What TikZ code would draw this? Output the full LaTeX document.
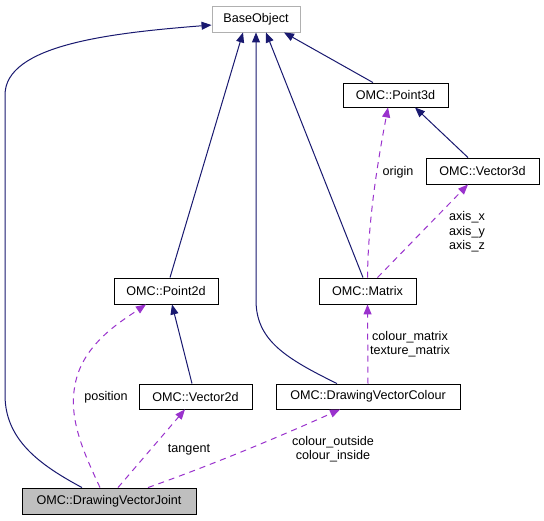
\documentclass[tikz,border=0pt]{standalone}
\usepackage{fontspec}
\setmainfont{Liberation Sans}
\usetikzlibrary{arrows.meta}
\definecolor{inhcol}{HTML}{191970}
\definecolor{usecol}{HTML}{9A32CD}
\definecolor{boxgray}{HTML}{BFBFBF}
\definecolor{baseline}{HTML}{B0B0B0}
\begin{document}
\begin{tikzpicture}[x=1pt,y=-1pt,
  font=\fontsize{12.6}{14.5}\selectfont,
  cls/.style={draw=black,rectangle,inner sep=0pt,line width=0.9pt},
  inh/.style={draw=inhcol,line width=1pt,-{Triangle[length=10pt,width=8pt]},arrows={[color=inhcol,fill=inhcol]}},
  use/.style={draw=usecol,line width=1pt,dash pattern=on 6pt off 5pt,-{Triangle[length=10pt,width=8pt]}},
  lbl/.style={align=center,inner sep=0pt,font=\fontsize{12.6}{14.5}\selectfont}]
\useasboundingbox (0,0) rectangle (544,520);
\fill[white] (0,0) rectangle (544,520);

\node[cls,draw=baseline,minimum width=88pt,minimum height=26pt] (base) at (256,19) {BaseObject};
\node[cls,minimum width=105pt,minimum height=24pt] (p3d) at (395.5,95) {OMC::Point3d};
\node[cls,minimum width=113pt,minimum height=26pt] (v3d) at (482.5,171) {OMC::Vector3d};
\node[cls,minimum width=104pt,minimum height=26pt] (p2d) at (166,291) {OMC::Point2d};
\node[cls,minimum width=97pt,minimum height=26pt] (mat) at (367.5,291) {OMC::Matrix};
\node[cls,minimum width=113pt,minimum height=25pt] (v2d) at (195.5,396.5) {OMC::Vector2d};
\node[cls,minimum width=184pt,minimum height=25pt] (dvc) at (368,396.5) {OMC::DrawingVectorColour};
\node[cls,fill=boxgray,minimum width=174pt,minimum height=26pt] (dvj) at (109,501) {OMC::DrawingVectorJoint};

% inheritance
\draw[inh] ([xshift=-27pt]dvj.north) .. controls (40,465) and (5,440) .. (5,395)
  -- (5,95) .. controls (5,45) and (110,33) .. ([yshift=-6pt]base.west);
\draw[inh] ([xshift=4pt]p2d.north) -- ([xshift=-13pt]base.south);
\draw[inh] ([xshift=-31pt]dvc.north) .. controls (285,358) and (256,340) .. (256,300) -- (base.south);
\draw[inh] ([xshift=-4.5pt]mat.north) -- ([xshift=10pt]base.south);
\draw[inh] ([xshift=-22.5pt]p3d.north) -- ([xshift=28pt]base.south);
\draw[inh] ([xshift=-14.5pt]v3d.north) -- ([xshift=19.5pt]p3d.south);
\draw[inh] ([xshift=-3.5pt]v2d.north) -- ([xshift=6pt]p2d.south);

% usage
\draw[use] (mat.north) .. controls (368,220) and (378,160) .. ([xshift=-7.5pt]p3d.south);
\node[lbl] (lorigin) at (398,172) {origin};
\draw[use] ([xshift=10pt]mat.north) -- ([xshift=-14.5pt]v3d.south);
\node[lbl] (laxis) at (467,232) {axis\_x\\axis\_y\\axis\_z};
\draw[use] (dvc.north) -- (mat.south);
\node[lbl] (lcm) at (410,344) {colour\_matrix\\texture\_matrix};
\draw[use] ([xshift=-9pt]dvj.north) .. controls (85,455) and (68,420) .. (75,385)
  .. controls (82,345) and (120,322) .. ([xshift=-20pt]p2d.south);
\node[lbl] (lpos) at (106,397) {position};
\draw[use] ([xshift=9pt]dvj.north) -- ([xshift=-10.5pt]v2d.south);
\node[lbl] (ltan) at (189,450) {tangent};
\draw[use] ([xshift=39pt]dvj.north) .. controls (220,462) and (290,432) .. ([xshift=-28pt]dvc.south);
\node[lbl] (lcol) at (333,449) {colour\_outside\\colour\_inside};
\end{tikzpicture}
\end{document}
